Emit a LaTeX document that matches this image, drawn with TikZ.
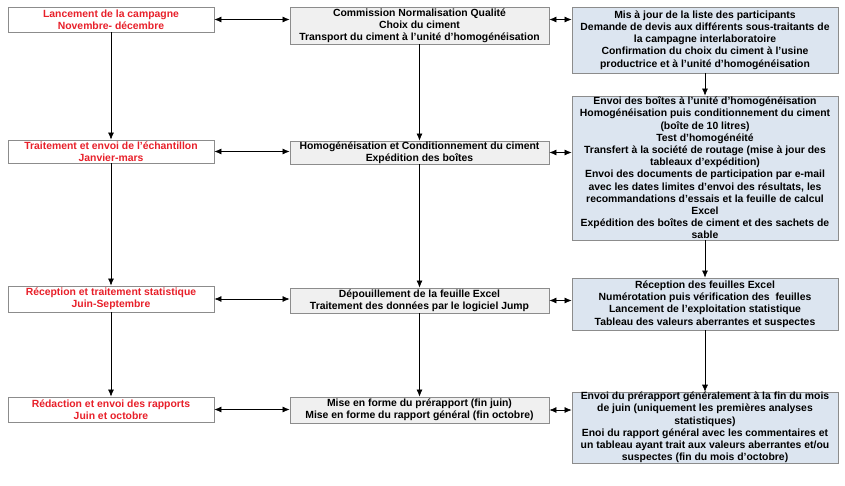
\documentclass[tikz,border=0pt]{standalone}
\usepackage{fontspec}
\setmainfont{Liberation Sans}
\usetikzlibrary{arrows.meta,positioning}

\definecolor{redtxt}{HTML}{E8202A}
\definecolor{bordergray}{HTML}{8C8C8C}
\definecolor{midfill}{HTML}{F0F0F0}
\definecolor{rightfill}{HTML}{DCE5F0}

\begin{document}
\begin{tikzpicture}[
    x=1pt, y=-1pt,
    every node/.style={
        draw=bordergray, line width=0.8pt,
        inner sep=0pt,
        align=center,
        font=\fontsize{10.4}{12.2}\selectfont\bfseries
    },
    leftbox/.style={minimum width=206pt, text=redtxt, fill=white},
    midbox/.style={minimum width=259pt, fill=midfill},
    rightbox/.style={minimum width=266pt, fill=rightfill},
    arr/.style={-{Latex[length=7pt,width=6pt]}, line width=0.7pt},
    dblarr/.style={{Latex[length=7pt,width=6pt]}-{Latex[length=7pt,width=6pt]}, line width=0.7pt}
]
\useasboundingbox (0,0) rectangle (845,485);

% left column
\node[leftbox, minimum height=25pt] (lanc) at (111,19.5)
    {Lancement de la campagne\\Novembre- d\'ecembre};
\node[leftbox, minimum height=23pt] (trait) at (111,151.5)
    {Traitement et envoi de l'\'echantillon\\Janvier-mars};
\node[leftbox, minimum height=26pt] (recep) at (111,299)
    {R\'eception et traitement statistique\\Juin-Septembre};
\node[leftbox, minimum height=25pt] (redac) at (111,409.5)
    {R\'edaction et envoi des rapports\\Juin et octobre};

% middle column
\node[midbox, minimum height=37pt] (commission) at (419.5,25.5)
    {Commission Normalisation Qualit\'e\\Choix du ciment\\
     Transport du ciment \`a l'unit\'e d'homog\'en\'eisation};
\node[midbox, minimum height=23pt] (homog) at (419.5,152.5)
    {Homog\'en\'eisation et Conditionnement du ciment\\Exp\'edition des bo\^ites};
\node[midbox, minimum height=25pt] (depouil) at (419.5,300.5)
    {D\'epouillement de la feuille Excel\\Traitement des donn\'ees par le logiciel Jump};
\node[midbox, minimum height=26pt] (miseforme) at (419.5,410)
    {Mise en forme du pr\'erapport (fin juin)\\Mise en forme du rapport g\'en\'eral (fin octobre)};

% right column
\node[rightbox, minimum height=66pt] (maj) at (705,40)
    {Mis \`a jour de la liste des participants\\
     Demande de devis aux diff\'erents sous-traitants de\\
     la campagne interlaboratoire\\
     Confirmation du choix du ciment \`a l'usine\\
     productrice et \`a l'unit\'e d'homog\'en\'eisation};
\node[rightbox, minimum height=144pt] (envoi) at (705,168)
    {Envoi des bo\^ites \`a l'unit\'e d'homog\'en\'eisation\\
     Homog\'en\'eisation puis conditionnement du ciment\\
     (bo\^ite de 10 litres)\\
     Test d'homog\'en\'eit\'e\\
     Transfert \`a la soci\'et\'e de routage (mise \`a jour des\\
     tableaux d'exp\'edition)\\
     Envoi des documents de participation par e-mail\\
     avec les dates limites d'envoi des r\'esultats, les\\
     recommandations d'essais et la feuille de calcul\\
     Excel\\
     Exp\'edition des bo\^ites de ciment et des sachets de\\
     sable};
\node[rightbox, minimum height=52pt] (recfeuil) at (705,304)
    {R\'eception des feuilles Excel\\
     Num\'erotation puis v\'erification des\ \ feuilles\\
     Lancement de l'exploitation statistique\\
     Tableau des valeurs aberrantes et suspectes};
\node[rightbox, minimum height=69pt] (envoirap) at (705,427.5)
    {Envoi du pr\'erapport g\'en\'eralement \`a la fin du mois\\
     de juin (uniquement les premi\`eres analyses\\
     statistiques)\\
     Enoi du rapport g\'en\'eral avec les commentaires et\\
     un tableau ayant trait aux valeurs aberrantes et/ou\\
     suspectes (fin du mois d'octobre)};

% vertical arrows
\draw[arr] (lanc) -- (trait);
\draw[arr] (trait) -- (recep);
\draw[arr] (recep) -- (redac);
\draw[arr] (commission) -- (homog);
\draw[arr] (homog) -- (depouil);
\draw[arr] (depouil) -- (miseforme);
\draw[arr] (maj) -- (envoi);
\draw[arr] (envoi) -- (recfeuil);
\draw[arr] (recfeuil) -- (envoirap);

% horizontal arrows
\draw[dblarr] (lanc.east) -- (lanc.east -| commission.west);
\draw[dblarr] (commission.east |- lanc.east) -- (lanc.east -| maj.west);
\draw[dblarr] (trait.east) -- (trait.east -| homog.west);
\draw[dblarr] (homog.east) -- (homog.east -| envoi.west);
\draw[dblarr] (recep.east) -- (recep.east -| depouil.west);
\draw[dblarr] (depouil.east) -- (depouil.east -| recfeuil.west);
\draw[dblarr] (redac.east) -- (redac.east -| miseforme.west);
\draw[dblarr] (miseforme.east) -- (miseforme.east -| envoirap.west);
\end{tikzpicture}
\end{document}
